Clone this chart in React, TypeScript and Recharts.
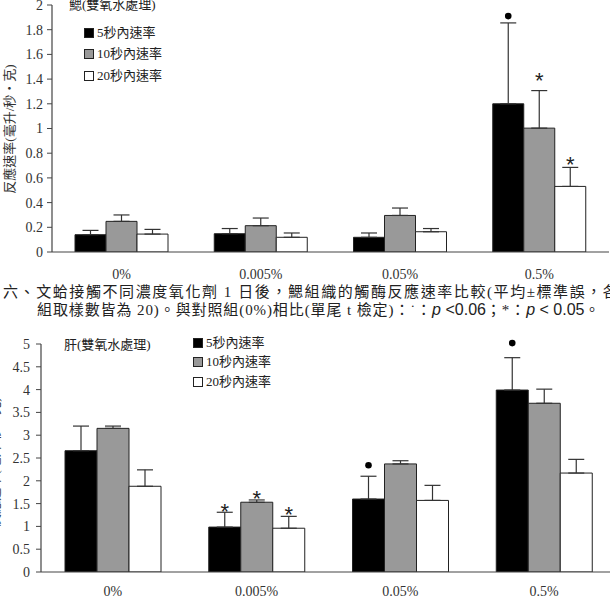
import React from 'react';
import { BarChart, Bar, XAxis, YAxis, ErrorBar, LabelList, Legend } from 'recharts';

// ---------- data ----------
const categories = ['0%', '0.005%', '0.05%', '0.5%'];
const seriesNames = ['5秒內速率', '10秒內速率', '20秒內速率'];

// Gill (鰓)
const gillRate5 = [0.14, 0.148, 0.119, 1.2];
const gillErr5 = [0.035, 0.042, 0.035, 0.655];
const gillRate10 = [0.248, 0.213, 0.296, 1.003];
const gillErr10 = [0.052, 0.062, 0.06, 0.304];
const gillRate20 = [0.145, 0.119, 0.164, 0.531];
const gillErr20 = [0.038, 0.035, 0.026, 0.154];
const gillMark5 = ['', '', '', '•'];
const gillMark10 = ['', '', '', '*'];
const gillMark20 = ['', '', '', '*'];
const gillMarkAt5 = [0, 0, 0, 1.91];
const gillMarkAt10 = [0, 0, 0, 1.425];
const gillMarkAt20 = [0, 0, 0, 0.745];
const gillTicks = [0, 0.2, 0.4, 0.6, 0.8, 1, 1.2, 1.4, 1.6, 1.8, 2];

// Liver (肝)
const liverRate5 = [2.66, 0.985, 1.6, 3.99];
const liverErr5 = [0.54, 0.325, 0.5, 0.71];
const liverRate10 = [3.15, 1.53, 2.37, 3.7];
const liverErr10 = [0.05, 0.05, 0.07, 0.31];
const liverRate20 = [1.88, 0.96, 1.57, 2.17];
const liverErr20 = [0.36, 0.26, 0.33, 0.3];
const liverMark5 = ['', '*', '•', '•'];
const liverMark10 = ['', '*', '', ''];
const liverMark20 = ['', '*', '', ''];
const liverMarkAt5 = [0, 1.42, 2.34, 5.02];
const liverMarkAt10 = [0, 1.7, 0, 0];
const liverMarkAt20 = [0, 1.36, 0, 0];
const liverTicks = [0, 0.5, 1, 1.5, 2, 2.5, 3, 3.5, 4, 4.5, 5];

const edgeTicks = [1, 2, 3, 4];

type Row = { [k: string]: any };

function buildRows(
  r5: number[], e5: number[], m5: string[], a5: number[],
  r10: number[], e10: number[], m10: string[], a10: number[],
  r20: number[], e20: number[], m20: string[], a20: number[]
): Row[] {
  return categories.map((cat, i) => ({
    cat,
    r5: r5[i], e5: [0, e5[i]], m5: m5[i], a5: a5[i],
    r10: r10[i], e10: [0, e10[i]], m10: m10[i], a10: a10[i],
    r20: r20[i], e20: [0, e20[i]], m20: m20[i], a20: a20[i],
  }));
}

const gillRows = buildRows(
  gillRate5, gillErr5, gillMark5, gillMarkAt5,
  gillRate10, gillErr10, gillMark10, gillMarkAt10,
  gillRate20, gillErr20, gillMark20, gillMarkAt20
);
const liverRows = buildRows(
  liverRate5, liverErr5, liverMark5, liverMarkAt5,
  liverRate10, liverErr10, liverMark10, liverMarkAt10,
  liverRate20, liverErr20, liverMark20, liverMarkAt20
);

// ---------- styles ----------
const SERIF = "'Liberation Serif', 'Noto Sans CJK TC', serif";
const SANS = "'Liberation Sans', sans-serif";
const FILLS = ['#000000', '#999999', '#ffffff'];
const STROKE = '#222222';
const AXIS = '#444444';

function makeMarker(rows: Row[], valKey: string, atKey: string) {
  return (props: any) => {
    const idx = props.index;
    const row = rows[idx];
    if (!row || !props.value) return null;
    const vb = props.viewBox || props;
    const x = vb.x ?? props.x;
    const y = vb.y ?? props.y;
    const w = vb.width ?? props.width;
    const h = vb.height ?? props.height;
    const v = row[valKey];
    const at = row[atKey];
    const pxPerUnit = Math.abs(h) / v;
    const cy = y - (at - v) * pxPerUnit;
    const cx = x + w / 2;
    if (props.value === '•') {
      return <circle cx={cx} cy={cy} r={3.3} fill="#000" />;
    }
    return (
      <text x={cx} y={cy + 12} textAnchor="middle" fontSize={22}
        fontFamily={SANS} fill="#222">
        *
      </text>
    );
  };
}

function LegendBox(props: any) {
  const gap: number = props.rowGap;
  return (
    <div style={{ fontFamily: SERIF, fontSize: 13, color: '#222', lineHeight: '14px' }}>
      {seriesNames.map((name, i) => (
        <div key={name} style={{ display: 'flex', alignItems: 'center', height: gap }}>
          <span style={{
            display: 'inline-block', width: 8, height: 8, border: '1px solid #222',
            background: FILLS[i], marginRight: 3,
          }} />
          <span>{name}</span>
        </div>
      ))}
    </div>
  );
}

function Panel(props: {
  rows: Row[]; width: number; height: number; margin: any; yWidth: number;
  xHeight: number; domain: [number, number]; ticks: number[]; barSize: number;
  tickMargin: number; xTickMargin: number; legendLeft: number; legendTop: number; rowGap: number;
}) {
  const { rows } = props;
  const keys = ['5', '10', '20'];
  return (
    <BarChart width={props.width} height={props.height} data={rows} margin={props.margin}
      barGap={0} barSize={props.barSize}>
      <XAxis xAxisId="edges" type="number" domain={[0, 4]} ticks={edgeTicks} allowDataOverflow
        mirror tick={false} axisLine={false} tickSize={5} height={0}
        tickLine={{ stroke: '#333', strokeWidth: 1 }} />
      <XAxis dataKey="cat" interval={0} tickLine={false} tickSize={0} tickMargin={props.xTickMargin}
        height={props.xHeight} axisLine={{ stroke: AXIS, strokeWidth: 1.2 }}
        tick={{ fontSize: 14, fill: '#333', fontFamily: SERIF }} />
      <YAxis width={props.yWidth} domain={props.domain} ticks={props.ticks} interval={0}
        allowDataOverflow tickSize={5} tickMargin={props.tickMargin}
        axisLine={{ stroke: AXIS, strokeWidth: 1.2 }} tickLine={{ stroke: AXIS }}
        tick={{ fontSize: 14, fill: '#333', fontFamily: SERIF }} />
      <Legend layout="vertical" align="center" verticalAlign="middle"
        wrapperStyle={{ left: props.legendLeft, top: props.legendTop, width: 120 }}
        content={(p: any) => <LegendBox {...p} rowGap={props.rowGap} />} />
      {keys.map((k, i) => (
        <Bar key={k} dataKey={'r' + k} name={seriesNames[i]} fill={FILLS[i]} stroke={STROKE}
          strokeWidth={1} isAnimationActive={false}>
          <ErrorBar dataKey={'e' + k} width={8} stroke="#333" strokeWidth={1.2} direction="y" />
          <LabelList dataKey={'m' + k} content={makeMarker(rows, 'r' + k, 'a' + k)} />
        </Bar>
      ))}
    </BarChart>
  );
}

const yLabelText = '反應速率(毫升/秒・克)';
const latin = { fontFamily: SANS, fontSize: 16, letterSpacing: 0 };

export default function App() {
  return (
    <div style={{
      position: 'absolute', left: 0, top: 0, width: 610, height: 607, overflow: 'hidden',
      background: '#fff', fontFamily: SERIF,
    }}>
      {/* Top chart: gill */}
      <div style={{ position: 'absolute', left: 0, top: 0 }}>
        <Panel rows={gillRows} width={610} height={300}
          margin={{ top: 5, right: 1, left: 0, bottom: 0 }} yWidth={52} xHeight={48}
          domain={[0, 2]} ticks={gillTicks} barSize={31} tickMargin={4} xTickMargin={17}
          legendLeft={84} legendTop={22} rowGap={21.5} />
      </div>
      <div style={{
        position: 'absolute', left: 69, top: -4, fontSize: 13, color: '#222', whiteSpace: 'nowrap',
        lineHeight: '18px',
      }}>鰓(雙氧水處理)</div>
      <div style={{
        position: 'absolute', left: 10 - 80, top: 129 - 8, width: 160, height: 16, lineHeight: '16px',
        fontSize: 13, color: '#333', textAlign: 'center', transform: 'rotate(-90deg)', whiteSpace: 'nowrap',
      }}>{yLabelText}</div>

      {/* Caption */}
      <div style={{
        position: 'absolute', left: 3, top: 283, fontSize: 15, letterSpacing: 1.58, color: '#222',
        whiteSpace: 'nowrap', lineHeight: '18px',
      }}>六、文蛤接觸不同濃度氧化劑 1 日後，鰓組織的觸酶反應速率比較(平均±標準誤，各</div>
      <div style={{
        position: 'absolute', left: 37, top: 301, fontSize: 15, letterSpacing: 0.9, color: '#222',
        whiteSpace: 'nowrap', lineHeight: '18px',
      }}>
        組取樣數皆為 20)。與對照組(0%)相比(單尾 t 檢定)：˙：
        <span style={{ ...latin, fontStyle: 'italic' }}>p</span>
        <span style={latin}> &lt;0.06</span>
        ；*：
        <span style={{ ...latin, fontStyle: 'italic' }}>p</span>
        <span style={latin}> &lt; 0.05</span>
        。
      </div>

      {/* Bottom chart: liver */}
      <div style={{ position: 'absolute', left: 0, top: 330 }}>
        <Panel rows={liverRows} width={617} height={277}
          margin={{ top: 14, right: 1, left: 0, bottom: 0 }} yWidth={41} xHeight={35}
          domain={[0, 5]} ticks={liverTicks} barSize={32} tickMargin={6} xTickMargin={14}
          legendLeft={193} legendTop={3} rowGap={19.5} />
      </div>
      <div style={{
        position: 'absolute', left: 64, top: 336, fontSize: 13, color: '#222', whiteSpace: 'nowrap',
        lineHeight: '18px',
      }}>肝(雙氧水處理)</div>
      <div style={{
        position: 'absolute', left: -5 - 80, top: 462 - 8, width: 160, height: 16, lineHeight: '16px',
        fontSize: 13, color: '#333', textAlign: 'center', transform: 'rotate(-90deg)', whiteSpace: 'nowrap',
      }}>{yLabelText}</div>
    </div>
  );
}
